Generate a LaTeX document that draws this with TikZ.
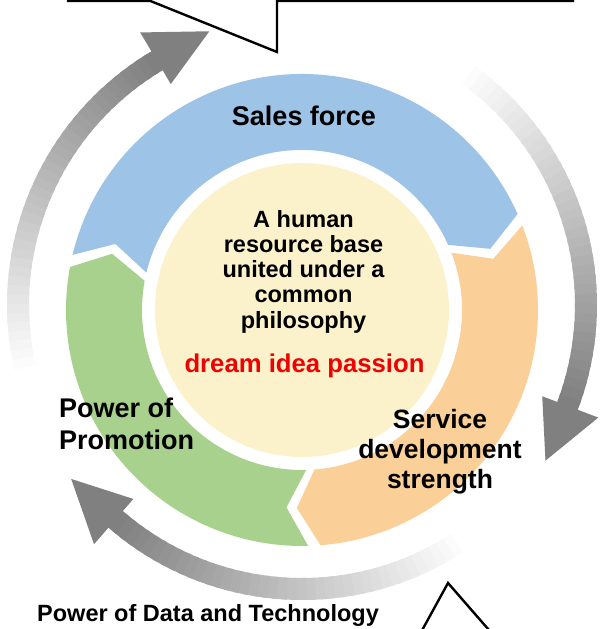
\documentclass[tikz,border=0pt]{standalone}
\usepackage{fontspec}
\setmainfont{Liberation Sans}
\usetikzlibrary{calc}

\definecolor{sales blue}{HTML}{9DC3E6}
\definecolor{service orange}{HTML}{FBCF98}
\definecolor{promo green}{HTML}{A9D18E}
\definecolor{core cream}{HTML}{FBF2CC}
\definecolor{motto red}{HTML}{F00000}

\begin{document}
\begin{tikzpicture}[x=1pt, y=1pt,
		big text/.style={font=\bfseries\fontsize{27}{32}\selectfont, inner sep=0pt},
		core text/.style={font=\bfseries\fontsize{23.5}{25.25}\selectfont, inner sep=0pt},
		callout/.style={draw=black, line width=2.4pt}]
		\def\ro{236};
		\def\ri{160};
		\def\rm{198};
		\def\tip{6};
		
		\useasboundingbox (0,0) rectangle (607,-629);
		\clip (0,0) rectangle (607,-629);
		
		\coordinate (ring centre) at (302,-310);
		\coordinate (arrow centre) at (302,-305);
		
		%grey arrows round the ring
		\begin{scope}[shift={(arrow centre)}]
			\foreach \tail/\base/\point in {194.5/120.7/108.7, 56/-20.8/-32.6, -55/-131/-143}{
				\foreach \i in {0,...,39}{
					\pgfmathsetmacro\p{\tail+(\base-\tail)*\i/40}
					\pgfmathsetmacro\q{\tail+(\base-\tail)*(\i+1.5)/40}
					\pgfmathsetmacro\tone{50*\i/39}
					\fill [black!\tone] (\p:273pt) arc [start angle=\p, end angle=\q, radius=273pt]
						-- (\q:295pt) arc [start angle=\q, end angle=\p, radius=295pt] -- cycle;
				}
				\fill [black!50] (\base:257pt) -- (\point:289pt) -- (\base:317pt) -- cycle;
			}
		\end{scope}
		
		%ring
		\begin{scope}[shift={(ring centre)}]
			\foreach \s/\e/\col in {166.5/24/sales blue, 21/-85.5/service orange, -88.5/-190.5/promo green}{
				\fill [\col] (\s:\ro pt) arc [start angle=\s, end angle=\e, radius=\ro pt]
					-- ({\e-\tip}:\rm pt) -- (\e:\ri pt) arc [start angle=\e, end angle=\s, radius=\ri pt]
					-- ({\s-\tip}:\rm pt) -- cycle;
			}
			\fill [core cream] (0,0) circle [radius=147pt];
		\end{scope}
		
		%labels
		\node [big text, anchor=base] (sales) at (304,-125) {Sales force};
		\node [core text, anchor=north, align=center] (base) at (303.5,-210) {A human\\resource base\\united under a\\common\\philosophy};
		\node [big text, font=\bfseries\fontsize{25.7}{30}\selectfont, text=motto red, anchor=base] (motto) at (304.5,-372) {dream idea passion};
		\node [big text, anchor=north west, align=left] (promotion) at (59,-397.5) {Power of\\Promotion};
		\node [big text, font=\bfseries\fontsize{26.5}{30}\selectfont, anchor=north, align=center] (service) at (440,-409) {Service\\development\\strength};
		\node [core text, anchor=base west] (data) at (37,-621) {Power of Data and Technology};
		
		%callouts
		\draw [callout] (68,20) -- (68,-0.8) -- (150,-0.8) -- (277,-52) -- (277,-0.8) -- (573,-0.8) -- (573,20);
		\draw [callout] (30,-645) -- (414,-645) -- (448,-583) -- (502,-645) -- (580,-645);
	\end{tikzpicture}
\end{document}
